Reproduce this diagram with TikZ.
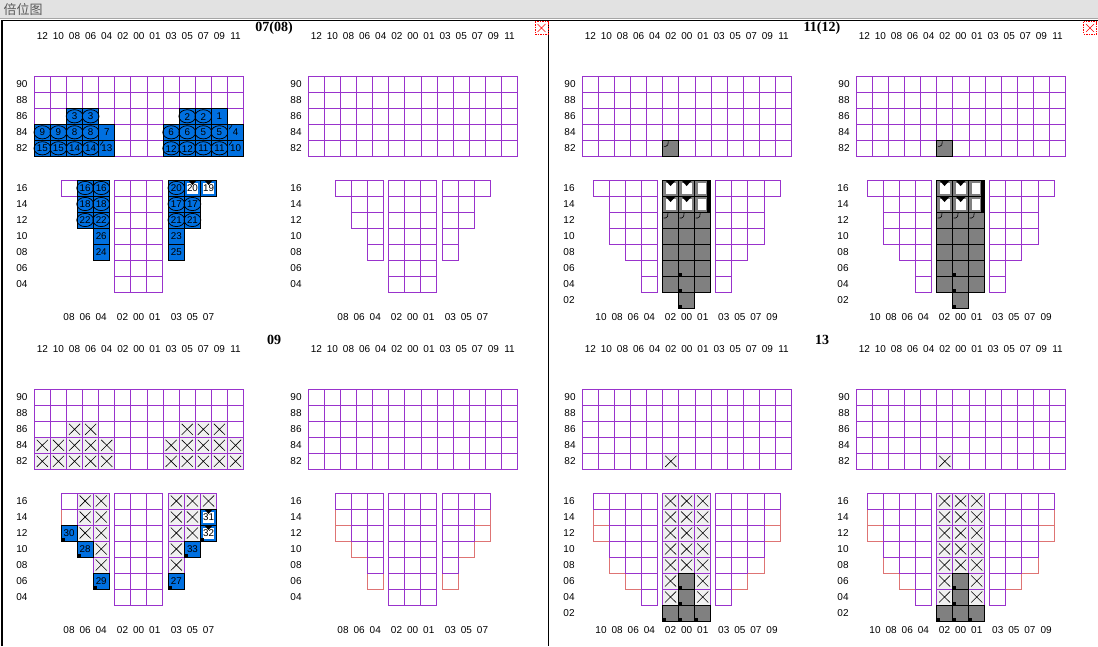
\documentclass[tikz,border=0pt]{standalone}
\usepackage{fontspec}
\setmainfont{Liberation Sans}
\newfontfamily\cjk{Noto Sans CJK SC}
\newfontfamily\ttlfont{Liberation Serif}
\definecolor{pur}{RGB}{153,51,204}
\definecolor{blu}{RGB}{0,112,224}
\definecolor{gry}{RGB}{128,128,128}
\definecolor{sal}{RGB}{222,116,116}
\definecolor{barbg}{RGB}{226,226,226}
\definecolor{xbg}{RGB}{240,240,240}
\tikzset{
  pc/.style={draw=pur,line width=1pt,fill=white},
  sc/.style={draw=sal,line width=1pt,fill=white},
  bc/.style={draw=black,line width=1pt,fill=blu},
  gc/.style={draw=black,line width=1pt,fill=gry},
  xc/.style={draw=pur,line width=1pt,fill=xbg},
  lbl/.style={font=\fontsize{10}{11}\selectfont,inner sep=0pt},
  ctx/.style={font=\fontsize{9.8}{10}\selectfont,inner sep=0pt},
  ttl/.style={font=\ttlfont\bfseries\fontsize{14}{15}\selectfont,inner sep=0pt},
}
\newcount\nodecnt
\newcommand{\up}[2]{\pgfmathsetmacro\cx{34.3+16.1*#1}\pgfmathsetmacro\cy{76.3+16*#2}}
\newcommand{\ho}[3]{\pgfmathsetmacro\cx{#1+16.1*#2}\pgfmathsetmacro\cy{180+16*#3}}
\newcommand{\cellbox}[1]{\path[#1] (\cx,\cy) rectangle ++(16.1,16);}
\newcommand{\celltext}[1]{\global\advance\nodecnt by 1 \node[ctx] (c\the\nodecnt) at (\cx+8.05,\cy+8.3) {#1};}
\newcommand{\cellell}{\draw[line width=0.75pt] (\cx+8.05,\cy+8) ellipse (8.4 and 6.6);}
\newcommand{\cellx}{\draw[line width=0.6pt] (\cx+2.5,\cy+2.5) -- (\cx+13.6,\cy+13.5) (\cx+13.6,\cy+2.5) -- (\cx+2.5,\cy+13.5);}
\newcommand{\cellsq}{\fill (\cx+0.5,\cy+12.5) rectangle ++(3,3);}
\newcommand{\cellwb}{\fill[white] (\cx+2.5,\cy+3) rectangle ++(11,10.5); \fill (\cx+4,\cy+0.5) -- (\cx+12.1,\cy+0.5) -- (\cx+8.05,\cy+5) -- cycle;}
\newcommand{\cellhook}{\draw[line width=0.6pt] (\cx+1,\cy+6) -- (\cx+3,\cy+6) .. controls (\cx+5,\cy+6) and (\cx+5.5,\cy+4) .. (\cx+5.5,\cy+1);}
\newcommand{\celltick}{\draw[line width=0.6pt] (\cx+1.5,\cy+5) -- (\cx+4.5,\cy+1);}
\newcommand{\bE}[1]{\cellbox{bc}\cellell\celltext{#1}}
\newcommand{\bP}[1]{\cellbox{bc}\celltext{#1}}
\newcommand{\bW}[1]{\cellbox{bc}\cellwb\celltext{#1}}
\newcommand{\xC}{\cellbox{xc}\cellx}
\newcommand{\gC}{\cellbox{gc}}
\newcommand{\spA}{\cellbox{gc}\fill[white] (\cx+3,\cy+3) rectangle ++(10.1,10.5); \fill (\cx+3,\cy+0.5) -- (\cx+13.1,\cy+0.5) -- (\cx+8.05,\cy+6) -- cycle;}
\newcommand{\spB}{\cellbox{gc}\fill[white] (\cx+3,\cy+3) rectangle ++(8,10.5); \fill (\cx+12,\cy) rectangle ++(4.1,16);}
% ---------- common grids ----------
\newcommand{\upgrid}{%
  \foreach \i in {0,...,12}{\foreach \j in {0,...,4}{\up{\i}{\j}\cellbox{pc}}}%
  \foreach \t [count=\n from 0] in {12,10,08,06,04,02,00,01,03,05,07,09,11}{\node[lbl] (h\n) at ({42.35+16.1*\n},36) {\t};}%
  \foreach \t [count=\n from 0] in {90,88,86,84,82}{\node[lbl] (u\n) at (22,{84.3+16*\n}) {\t};}%
}
\newcommand{\holdA}{% left panel hold (3-col wings)
  \foreach \k in {0,1,2}{\foreach \r in {0,...,6}{\ho{114.5}{\k}{\r}\cellbox{pc}}}%
  \foreach \k/\r in {0/0,1/0,2/0,1/1,2/1,1/2,2/2,2/3,2/4}{\ho{61}{\k}{\r}\cellbox{pc}}%
  \foreach \k/\r in {0/0,1/0,2/0,0/1,1/1,0/2,1/2,0/3,0/4}{\ho{168.3}{\k}{\r}\cellbox{pc}}%
  \foreach \t [count=\n from 0] in {16,14,12,10,08,06,04}{\node[lbl] (r\n) at (22,{188.3+16*\n}) {\t};}%
  \foreach \t [count=\n from 0] in {08,06,04}{\node[lbl] (bl\n) at ({69.05+16.1*\n},316.7) {\t};}%
  \foreach \t [count=\n from 0] in {02,00,01}{\node[lbl] (bc\n) at ({122.55+16.1*\n},316.7) {\t};}%
  \foreach \t [count=\n from 0] in {03,05,07}{\node[lbl] (br\n) at ({176.35+16.1*\n},316.7) {\t};}%
}
\newcommand{\holdB}{% right panel hold (4-col wings)
  \foreach \k in {0,1,2}{\foreach \r in {0,...,6}{\ho{114.5}{\k}{\r}\cellbox{pc}}}%
  \foreach \k/\r in {0/0,1/0,2/0,3/0,1/1,2/1,3/1,1/2,2/2,3/2,1/3,2/3,3/3,2/4,3/4,3/5,3/6}{\ho{45}{\k}{\r}\cellbox{pc}}%
  \foreach \k/\r in {0/0,1/0,2/0,3/0,0/1,1/1,2/1,0/2,1/2,2/2,0/3,1/3,2/3,0/4,1/4,0/5,0/6}{\ho{167.7}{\k}{\r}\cellbox{pc}}%
  \foreach \t [count=\n from 0] in {16,14,12,10,08,06,04,02}{\node[lbl] (r\n) at (21,{188.3+16*\n}) {\t};}%
  \foreach \t [count=\n from 0] in {10,08,06,04}{\node[lbl] (bl\n) at ({53.05+16.1*\n},316.7) {\t};}%
  \foreach \t [count=\n from 0] in {02,00,01}{\node[lbl] (bc\n) at ({122.55+16.1*\n},316.7) {\t};}%
  \foreach \t [count=\n from 0] in {03,05,07,09}{\node[lbl] (br\n) at ({175.75+16.1*\n},316.7) {\t};}%
}
\newcommand{\salA}{%
  \foreach \k/\r in {0/1,0/2,1/3,2/5}{\ho{61}{\k}{\r}\cellbox{sc}}%
  \foreach \k/\r in {2/1,2/2,1/3,0/5}{\ho{168.3}{\k}{\r}\cellbox{sc}}%
}
\newcommand{\salB}{%
  \foreach \k/\r in {0/1,0/2,1/4,2/5}{\ho{45}{\k}{\r}\cellbox{sc}}%
  \foreach \k/\r in {3/1,3/2,2/4,1/5}{\ho{167.7}{\k}{\r}\cellbox{sc}}%
}
% ---------- contents ----------
\newcommand{\bayA}{% loaded bay 07
  \up{2}{2}\bE{3}\up{3}{2}\bE{3}\up{9}{2}\bE{2}\up{10}{2}\bE{2}\up{11}{2}\bP{1}
  \up{0}{3}\bE{9}\up{1}{3}\bE{9}\up{2}{3}\bE{8}\up{3}{3}\bE{8}\up{4}{3}\bP{7}
  \up{8}{3}\bE{6}\up{9}{3}\bE{6}\up{10}{3}\bE{5}\up{11}{3}\bE{5}\up{12}{3}\bP{4}\celltick
  \up{0}{4}\bE{15}\up{1}{4}\bE{15}\up{2}{4}\bE{14}\up{3}{4}\bE{14}\up{4}{4}\bP{13}\celltick
  \up{8}{4}\bE{12}\up{9}{4}\bE{12}\up{10}{4}\bE{11}\up{11}{4}\bE{11}\up{12}{4}\bP{10}\celltick
  \ho{61}{1}{0}\bE{16}\ho{61}{2}{0}\bE{16}
  \ho{61}{1}{1}\bE{18}\ho{61}{2}{1}\bE{18}
  \ho{61}{1}{2}\bE{22}\ho{61}{2}{2}\bE{22}
  \ho{61}{2}{3}\bP{26}\ho{61}{2}{4}\bP{24}
  \ho{168.3}{0}{0}\bE{20}\ho{168.3}{1}{0}\bW{20}\ho{168.3}{2}{0}\bW{19}
  \ho{168.3}{0}{1}\bE{17}\ho{168.3}{1}{1}\bE{17}
  \ho{168.3}{0}{2}\bE{21}\ho{168.3}{1}{2}\bE{21}
  \ho{168.3}{0}{3}\bP{23}\ho{168.3}{0}{4}\bP{25}
}
\newcommand{\bayC}{% bay 09
  \foreach \i/\j in {2/2,3/2,9/2,10/2,11/2,0/3,1/3,2/3,3/3,4/3,8/3,9/3,10/3,11/3,12/3,0/4,1/4,2/4,3/4,4/4,8/4,9/4,10/4,11/4,12/4}{\up{\i}{\j}\xC}
  \foreach \k/\r in {1/0,2/0,1/1,2/1,1/2,2/2,2/3,2/4}{\ho{61}{\k}{\r}\xC}
  \ho{61}{0}{2}\bP{30}\cellsq \ho{61}{1}{3}\bP{28}\cellsq \ho{61}{2}{5}\bP{29}\cellsq
  \foreach \k/\r in {0/0,1/0,2/0,0/1,1/1,0/2,1/2,0/3,0/4}{\ho{168.3}{\k}{\r}\xC}
  \ho{168.3}{2}{1}\bW{31}\ho{168.3}{2}{2}\bW{32}\cellsq
  \ho{168.3}{1}{3}\bP{33}\cellsq \ho{168.3}{0}{5}\bP{27}\cellsq
}
\newcommand{\bayE}{% bay 11/12
  \up{5}{4}\gC\cellhook
  \foreach \k in {0,1,2}{\foreach \r in {2,...,6}{\ho{114.5}{\k}{\r}\gC}}
  \ho{114.5}{1}{7}\gC
  \ho{114.5}{0}{0}\spA\ho{114.5}{1}{0}\spA\ho{114.5}{0}{1}\spA\ho{114.5}{1}{1}\spA
  \ho{114.5}{2}{0}\spB\ho{114.5}{2}{1}\spB
  \foreach \k in {0,1,2}{\ho{114.5}{\k}{2}\cellhook}
  \foreach \r in {5,6,7}{\ho{114.5}{1}{\r}\cellsq}
}
\newcommand{\bayG}{% bay 13/14
  \up{5}{4}\xC
  \foreach \k in {0,1,2}{\foreach \r in {0,...,4}{\ho{114.5}{\k}{\r}\xC}}
  \foreach \k/\r in {0/5,2/5,0/6,2/6}{\ho{114.5}{\k}{\r}\xC}
  \foreach \k/\r in {1/5,1/6,0/7,1/7,2/7}{\ho{114.5}{\k}{\r}\gC\cellsq}
}
\begin{document}
\begin{tikzpicture}[x=1pt,y=-1pt]
\useasboundingbox (0,0) rectangle (1098,646);
\fill[white] (0,0) rectangle (1098,646);
% title bar
\fill[barbg] (0,0) rectangle (1098,18.5);
\draw[gray!70,line width=0.8pt] (0,18.6) -- (1098,18.6);
\node[anchor=west,inner sep=0pt,text=black!65,font=\cjk\fontsize{13}{14}\selectfont] (bar) at (3.5,9.5) {倍位图};
% frames
\draw[line width=1.3pt] (2,646) -- (2,20.3) -- (1098,20.3);
\draw[line width=1.3pt] (548.5,20.3) -- (548.5,646);
% close markers
\foreach \xx/\nm in {535/xa,1083.5/xb}{
  \draw[red,line width=0.7pt,dash pattern=on 1.5pt off 1pt] (\xx,21.5) rectangle ++(13,12.5);
  \draw[red,line width=0.6pt] (\xx+2.5,24) -- (\xx+10.5,32) (\xx+10.5,24) -- (\xx+2.5,32);
}
% titles
\node[ttl] (t1) at (274,27.8) {07(08)};
\node[ttl] (t2) at (274,339.5) {09};
\node[ttl] (t3) at (822,27.8) {11(12)};
\node[ttl] (t4) at (822,339.5) {13};
% sub-bay A: 07
\begin{scope}[name prefix=A-]
\upgrid\holdA\bayA
\end{scope}
% sub-bay B: 08
\begin{scope}[shift={(274,0)},name prefix=B-]
\upgrid\holdA
\end{scope}
% sub-bay C: 09
\begin{scope}[shift={(0,313)},name prefix=C-]
\upgrid\salA\holdA\bayC
\end{scope}
% sub-bay D: 10
\begin{scope}[shift={(274,313)},name prefix=D-]
\upgrid\salA\holdA
\end{scope}
% sub-bay E: 11
\begin{scope}[shift={(548,0)},name prefix=E-]
\upgrid\holdB\bayE
\end{scope}
% sub-bay F: 12
\begin{scope}[shift={(822,0)},name prefix=F-]
\upgrid\holdB\bayE
\end{scope}
% sub-bay G: 13
\begin{scope}[shift={(548,313)},name prefix=G-]
\upgrid\salB\holdB\bayG
\end{scope}
% sub-bay H: 14
\begin{scope}[shift={(822,313)},name prefix=H-]
\upgrid\salB\holdB\bayG
\end{scope}
\end{tikzpicture}
\end{document}
